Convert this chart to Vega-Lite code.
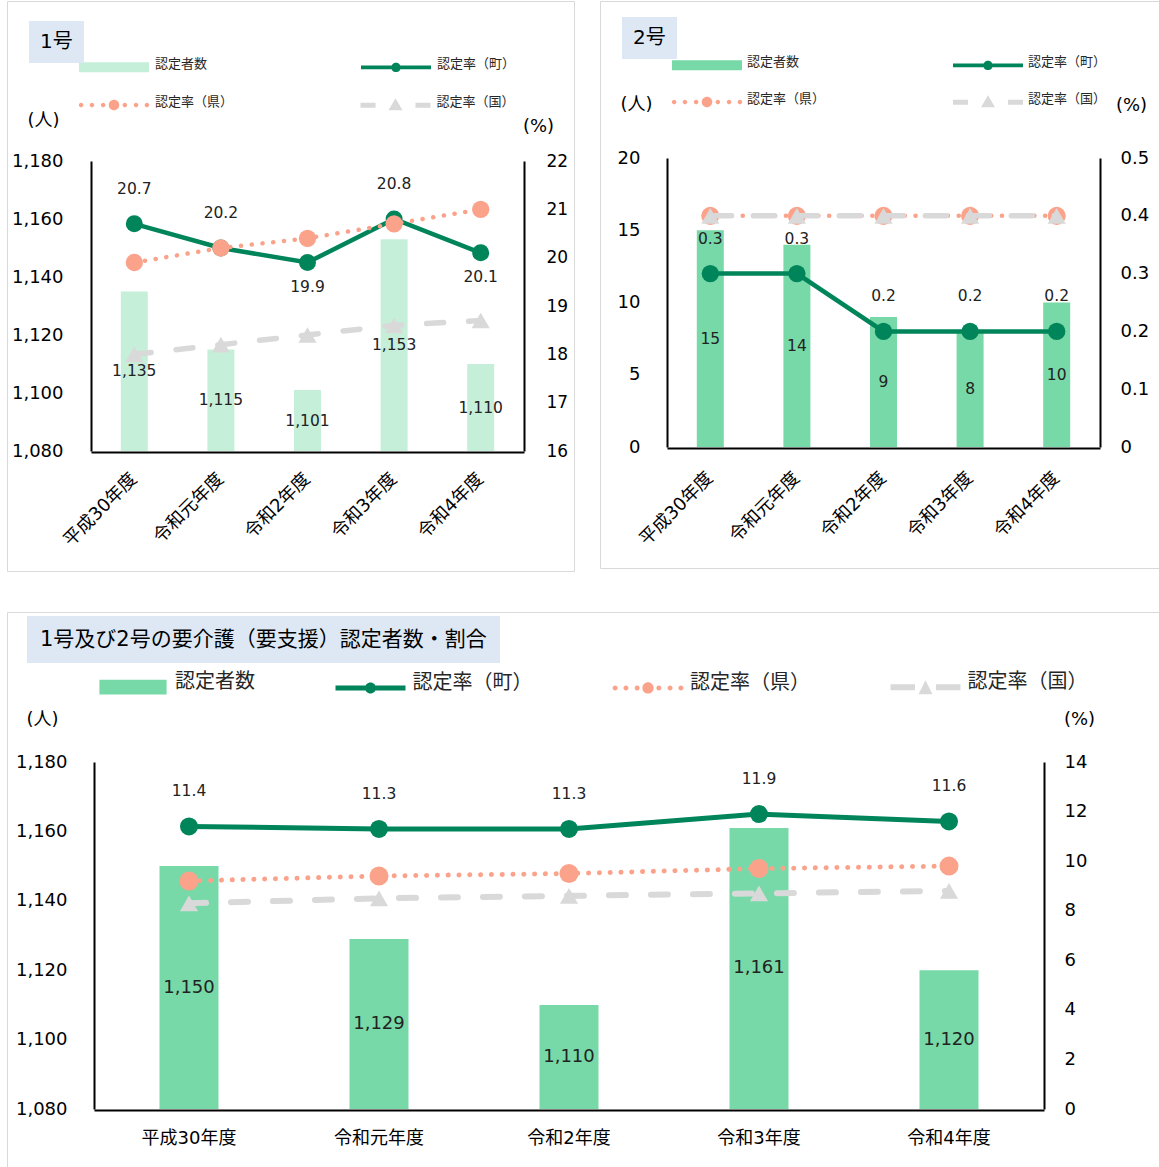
{
  "$schema": "https://vega.github.io/schema/vega-lite/v6.json",
  "padding": {"left": 6, "top": 0, "right": 0, "bottom": 0},
  "background": "white",
  "config": {
    "font": "DejaVu Sans, Noto Sans CJK JP",
    "view": {"stroke": "#D9D9D9", "strokeWidth": 1},
    "axis": {"grid": false, "ticks": false, "domainColor": "#000000", "domainWidth": 2, "labelColor": "#000000", "titleColor": "#000000", "titleFontWeight": "normal"},
    "legend": {"labelColor": "#262626"}
  },
  "datasets": {
    "p1c": [
      {"year": "平成30年度", "series": "認定者数", "count": 1135},
      {"year": "令和元年度", "series": "認定者数", "count": 1115},
      {"year": "令和2年度", "series": "認定者数", "count": 1101},
      {"year": "令和3年度", "series": "認定者数", "count": 1153},
      {"year": "令和4年度", "series": "認定者数", "count": 1110}
    ],
    "p1r": [
      {"year": "平成30年度", "series": "認定率（町）", "rate": 20.7},
      {"year": "令和元年度", "series": "認定率（町）", "rate": 20.2},
      {"year": "令和2年度", "series": "認定率（町）", "rate": 19.9},
      {"year": "令和3年度", "series": "認定率（町）", "rate": 20.8},
      {"year": "令和4年度", "series": "認定率（町）", "rate": 20.1},
      {"year": "平成30年度", "series": "認定率（県）", "rate": 19.9},
      {"year": "令和元年度", "series": "認定率（県）", "rate": 20.2},
      {"year": "令和2年度", "series": "認定率（県）", "rate": 20.4},
      {"year": "令和3年度", "series": "認定率（県）", "rate": 20.7},
      {"year": "令和4年度", "series": "認定率（県）", "rate": 21.0},
      {"year": "平成30年度", "series": "認定率（国）", "rate": 18.0},
      {"year": "令和元年度", "series": "認定率（国）", "rate": 18.2},
      {"year": "令和2年度", "series": "認定率（国）", "rate": 18.4},
      {"year": "令和3年度", "series": "認定率（国）", "rate": 18.6},
      {"year": "令和4年度", "series": "認定率（国）", "rate": 18.7}
    ],
    "p2c": [
      {"year": "平成30年度", "series": "認定者数", "count": 15},
      {"year": "令和元年度", "series": "認定者数", "count": 14},
      {"year": "令和2年度", "series": "認定者数", "count": 9},
      {"year": "令和3年度", "series": "認定者数", "count": 8},
      {"year": "令和4年度", "series": "認定者数", "count": 10}
    ],
    "p2r": [
      {"year": "平成30年度", "series": "認定率（町）", "rate": 0.3},
      {"year": "令和元年度", "series": "認定率（町）", "rate": 0.3},
      {"year": "令和2年度", "series": "認定率（町）", "rate": 0.2},
      {"year": "令和3年度", "series": "認定率（町）", "rate": 0.2},
      {"year": "令和4年度", "series": "認定率（町）", "rate": 0.2},
      {"year": "平成30年度", "series": "認定率（県）", "rate": 0.4},
      {"year": "令和元年度", "series": "認定率（県）", "rate": 0.4},
      {"year": "令和2年度", "series": "認定率（県）", "rate": 0.4},
      {"year": "令和3年度", "series": "認定率（県）", "rate": 0.4},
      {"year": "令和4年度", "series": "認定率（県）", "rate": 0.4},
      {"year": "平成30年度", "series": "認定率（国）", "rate": 0.4},
      {"year": "令和元年度", "series": "認定率（国）", "rate": 0.4},
      {"year": "令和2年度", "series": "認定率（国）", "rate": 0.4},
      {"year": "令和3年度", "series": "認定率（国）", "rate": 0.4},
      {"year": "令和4年度", "series": "認定率（国）", "rate": 0.4}
    ],
    "p3c": [
      {"year": "平成30年度", "series": "認定者数", "count": 1150},
      {"year": "令和元年度", "series": "認定者数", "count": 1129},
      {"year": "令和2年度", "series": "認定者数", "count": 1110},
      {"year": "令和3年度", "series": "認定者数", "count": 1161},
      {"year": "令和4年度", "series": "認定者数", "count": 1120}
    ],
    "p3r": [
      {"year": "平成30年度", "series": "認定率（町）", "rate": 11.4},
      {"year": "令和元年度", "series": "認定率（町）", "rate": 11.3},
      {"year": "令和2年度", "series": "認定率（町）", "rate": 11.3},
      {"year": "令和3年度", "series": "認定率（町）", "rate": 11.9},
      {"year": "令和4年度", "series": "認定率（町）", "rate": 11.6},
      {"year": "平成30年度", "series": "認定率（県）", "rate": 9.2},
      {"year": "令和元年度", "series": "認定率（県）", "rate": 9.4},
      {"year": "令和2年度", "series": "認定率（県）", "rate": 9.5},
      {"year": "令和3年度", "series": "認定率（県）", "rate": 9.7},
      {"year": "令和4年度", "series": "認定率（県）", "rate": 9.8},
      {"year": "平成30年度", "series": "認定率（国）", "rate": 8.3},
      {"year": "令和元年度", "series": "認定率（国）", "rate": 8.5},
      {"year": "令和2年度", "series": "認定率（国）", "rate": 8.6},
      {"year": "令和3年度", "series": "認定率（国）", "rate": 8.7},
      {"year": "令和4年度", "series": "認定率（国）", "rate": 8.8}
    ]
  },
  "spacing": 39,
  "resolve": {"scale": {"color": "independent", "shape": "independent", "stroke": "independent"}, "legend": {"color": "independent", "shape": "independent", "stroke": "independent"}},
  "vconcat": [
    {
      "spacing": 24,
      "resolve": {"scale": {"color": "independent", "shape": "independent", "stroke": "independent"}, "legend": {"color": "independent", "shape": "independent", "stroke": "independent"}},
      "hconcat": [
        {
          "width": 567,
          "height": 570,
          "encoding": {
            "x": {"field": "year", "type": "nominal",
              "scale": {"type": "band", "domain": ["平成30年度", "令和元年度", "令和2年度", "令和3年度", "令和4年度"], "range": [84, 517], "paddingInner": 0, "paddingOuter": 0},
              "axis": {"orient": "bottom", "offset": -119, "title": null, "labelAngle": -45, "labelAlign": "right", "labelBaseline": "middle", "labelFontSize": 18, "labelPadding": 24}}
          },
          "resolve": {"scale": {"y": "independent"}},
          "layer": [
            {
              "data": {"name": "p1c"},
              "transform": [{"calculate": "(datum.count + 1080) / 2", "as": "mid"}],
              "encoding": {
                "y": {"field": "count", "type": "quantitative",
                  "scale": {"domain": [1080, 1180], "range": [450, 160], "zero": false, "nice": false},
                  "axis": {"orient": "left", "offset": -84, "values": [1080, 1100, 1120, 1140, 1160, 1180], "format": ",d", "labelFontSize": 18, "labelPadding": 28, "title": "(人)", "titleAngle": 0, "titleX": -48, "titleY": 119, "titleAlign": "center", "titleBaseline": "middle", "titleFontSize": 18}}
              },
              "layer": [
                {
                  "mark": {"type": "bar", "width": 27},
                  "encoding": {
                    "y2": {"datum": 1080},
                    "color": {"field": "series", "type": "nominal",
                      "scale": {"domain": ["認定者数", "認定率（町）"], "range": ["#C6EFDA", "#00855A"]},
                      "legend": {"orient": "none", "direction": "horizontal", "legendX": 69.5, "legendY": 25.5, "columns": 2, "columnPadding": 151, "title": null, "padding": 0, "symbolSize": 4900, "symbolStrokeWidth": 4.5, "labelFontSize": 13, "labelOffset": 3.5, "labelLimit": 0,
                        "encode": {"symbols": {"update": {
                          "shape": {"signal": "datum.value === '認定者数' ? 'M-1,-0.058H1V0.228H-1Z' : 'M-1,0.028H1V0.142H-1Z M0.135,0.085A0.135,0.135,0,1,1,-0.135,0.085A0.135,0.135,0,1,1,0.135,0.085Z'"},
                          "fill": {"signal": "datum.value === '認定者数' ? '#C6EFDA' : '#00855A'"},
                          "stroke": {"value": "transparent"},
                          "strokeOpacity": {"value": 0},
                          "opacity": {"value": 1}
                        }}}}
                    }
                  }
                },
                {
                  "mark": {"type": "text", "fontSize": 15.5, "color": "#222222"},
                  "encoding": {"y": {"field": "mid", "type": "quantitative"}, "text": {"field": "count", "type": "quantitative", "format": ",d"}}
                }
              ]
            },
            {
              "data": {"name": "p1r"},
              "encoding": {
                "y": {"field": "rate", "type": "quantitative",
                  "scale": {"domain": [16, 22], "range": [450, 160], "zero": false, "nice": false},
                  "axis": {"orient": "right", "offset": -50, "values": [16, 17, 18, 19, 20, 21, 22], "labelFontSize": 17, "labelPadding": 22, "title": "(%)", "titleAngle": 0, "titleX": 14, "titleY": 125, "titleAlign": "center", "titleBaseline": "middle", "titleFontSize": 18}}
              },
              "layer": [
                {"transform": [{"filter": "datum.series === '認定率（町）'"}], "mark": {"type": "line", "color": "#00855A", "strokeWidth": 4.5}},
                {"transform": [{"filter": "datum.series === '認定率（町）'"}], "mark": {"type": "point", "filled": true, "opacity": 1, "color": "#00855A", "size": 289},
                  "encoding": {"shape": {"datum": "1号", "type": "nominal", "scale": {"range": ["circle"]},
                    "legend": {"orient": "none", "legendX": 22, "legendY": 20, "title": null, "fillColor": "#DDE8F4", "padding": 11, "symbolSize": 0, "symbolOpacity": 0, "symbolStrokeWidth": 0, "labelOffset": -20, "labelFontSize": 20, "labelColor": "#000000", "labelLimit": 0}}}},
                {"transform": [{"filter": "datum.series === '認定率（県）'"}], "mark": {"type": "line", "strokeWidth": 4.5, "strokeDash": [0.1, 10.7], "strokeCap": "round"},
                  "encoding": {"stroke": {"field": "series", "type": "nominal",
                    "scale": {"domain": ["認定率（県）", "認定率（国）"], "range": ["#FBA28B", "#D9D9D9"]},
                    "legend": {"orient": "none", "direction": "horizontal", "legendX": 69.5, "legendY": 63.5, "columns": 2, "columnPadding": 124.5, "title": null, "padding": 0, "symbolSize": 4900, "symbolStrokeWidth": 4.5, "labelFontSize": 13, "labelOffset": 3.5, "labelLimit": 0,
                      "encode": {"symbols": {"update": {
                        "shape": {"signal": "datum.value === '認定率（国）' ? 'M-1,0.015H-0.57V0.155H-1Z M0.57,0.015H1V0.155H0.57Z M0,-0.115L0.2,0.225L-0.2,0.225Z' : 'M-0.875,0.085A0.065,0.065,0,1,1,-1.005,0.085A0.065,0.065,0,1,1,-0.875,0.085Z M-0.565,0.085A0.065,0.065,0,1,1,-0.695,0.085A0.065,0.065,0,1,1,-0.565,0.085Z M-0.245,0.085A0.065,0.065,0,1,1,-0.375,0.085A0.065,0.065,0,1,1,-0.245,0.085Z M0.15,0.085A0.15,0.15,0,1,1,-0.15,0.085A0.15,0.15,0,1,1,0.15,0.085Z M0.375,0.085A0.065,0.065,0,1,1,0.245,0.085A0.065,0.065,0,1,1,0.375,0.085Z M0.695,0.085A0.065,0.065,0,1,1,0.565,0.085A0.065,0.065,0,1,1,0.695,0.085Z M1.005,0.085A0.065,0.065,0,1,1,0.875,0.085A0.065,0.065,0,1,1,1.005,0.085Z'"},
                        "fill": {"signal": "datum.value === '認定率（県）' ? '#FBA28B' : '#D9D9D9'"},
                        "stroke": {"value": "transparent"},
                        "strokeOpacity": {"value": 0},
                        "opacity": {"value": 1}
                      }}}}}}},
                {"transform": [{"filter": "datum.series === '認定率（県）'"}], "mark": {"type": "point", "filled": true, "opacity": 1, "color": "#FBA28B", "size": 300, "shape": "circle"}},
                {"transform": [{"filter": "datum.series === '認定率（国）'"}], "mark": {"type": "line", "strokeWidth": 5.5, "strokeDash": [17, 25], "strokeCap": "round"},
                  "encoding": {"stroke": {"field": "series", "type": "nominal"}}},
                {"transform": [{"filter": "datum.series === '認定率（国）'"}], "mark": {"type": "point", "filled": true, "opacity": 1, "color": "#D9D9D9", "size": 330, "shape": "triangle-up"}},
                {"transform": [{"filter": "datum.series === '認定率（町）' && datum.year !== '令和2年度' && datum.year !== '令和4年度'"}], "mark": {"type": "text", "fontSize": 15.5, "dy": -35, "color": "#222222"},
                  "encoding": {"text": {"field": "rate", "type": "quantitative", "format": ".1f"}}},
                {"transform": [{"filter": "datum.series === '認定率（町）' && (datum.year === '令和2年度' || datum.year === '令和4年度')"}], "mark": {"type": "text", "fontSize": 15.5, "dy": 24, "color": "#222222"},
                  "encoding": {"text": {"field": "rate", "type": "quantitative", "format": ".1f"}}}
              ]
            }
          ]
        },
        {
          "width": 570,
          "height": 567,
          "encoding": {
            "x": {"field": "year", "type": "nominal",
              "scale": {"type": "band", "domain": ["平成30年度", "令和元年度", "令和2年度", "令和3年度", "令和4年度"], "range": [67, 500], "paddingInner": 0, "paddingOuter": 0},
              "axis": {"orient": "bottom", "offset": -120, "title": null, "labelAngle": -45, "labelAlign": "right", "labelBaseline": "middle", "labelFontSize": 18, "labelPadding": 27}}
          },
          "resolve": {"scale": {"y": "independent"}},
          "layer": [
            {
              "data": {"name": "p2c"},
              "transform": [{"calculate": "datum.count / 2", "as": "mid"}],
              "encoding": {
                "y": {"field": "count", "type": "quantitative",
                  "scale": {"domain": [0, 20], "range": [446, 157], "zero": false, "nice": false},
                  "axis": {"orient": "left", "offset": -67, "values": [0, 5, 10, 15, 20], "labelFontSize": 18, "labelPadding": 27, "title": "(人)", "titleAngle": 0, "titleX": -31, "titleY": 103, "titleAlign": "center", "titleBaseline": "middle", "titleFontSize": 18}}
              },
              "layer": [
                {
                  "mark": {"type": "bar", "width": 27},
                  "encoding": {
                    "y2": {"datum": 0},
                    "color": {"field": "series", "type": "nominal",
                      "scale": {"domain": ["認定者数", "認定率（町）"], "range": ["#77D9A8", "#00855A"]},
                      "legend": {"orient": "none", "direction": "horizontal", "legendX": 69.5, "legendY": 23.5, "columns": 2, "columnPadding": 151, "title": null, "padding": 0, "symbolSize": 4900, "symbolStrokeWidth": 4.5, "labelFontSize": 13, "labelOffset": 2.5, "labelLimit": 0,
                        "encode": {"symbols": {"update": {
                          "shape": {"signal": "datum.value === '認定者数' ? 'M-1,-0.058H1V0.228H-1Z' : 'M-1,0.028H1V0.142H-1Z M0.135,0.085A0.135,0.135,0,1,1,-0.135,0.085A0.135,0.135,0,1,1,0.135,0.085Z'"},
                          "fill": {"signal": "datum.value === '認定者数' ? '#77D9A8' : '#00855A'"},
                          "stroke": {"value": "transparent"},
                          "strokeOpacity": {"value": 0},
                          "opacity": {"value": 1}
                        }}}}
                    }
                  }
                },
                {
                  "mark": {"type": "text", "fontSize": 15.5, "color": "#222222"},
                  "encoding": {"y": {"field": "mid", "type": "quantitative"}, "text": {"field": "count", "type": "quantitative", "format": "d"}}
                }
              ]
            },
            {
              "data": {"name": "p2r"},
              "encoding": {
                "y": {"field": "rate", "type": "quantitative",
                  "scale": {"domain": [0, 0.5], "range": [446, 157], "zero": false, "nice": false},
                  "axis": {"orient": "right", "offset": -70, "values": [0, 0.1, 0.2, 0.3, 0.4, 0.5], "format": "~g", "labelFontSize": 18, "labelPadding": 20, "title": "(%)", "titleAngle": 0, "titleX": 31, "titleY": 104, "titleAlign": "center", "titleBaseline": "middle", "titleFontSize": 18}}
              },
              "layer": [
                {"transform": [{"filter": "datum.series === '認定率（町）'"}], "mark": {"type": "line", "color": "#00855A", "strokeWidth": 4.5}},
                {"transform": [{"filter": "datum.series === '認定率（町）'"}], "mark": {"type": "point", "filled": true, "opacity": 1, "color": "#00855A", "size": 300},
                  "encoding": {"shape": {"datum": "2号", "type": "nominal", "scale": {"range": ["circle"]},
                    "legend": {"orient": "none", "legendX": 22, "legendY": 16, "title": null, "fillColor": "#DDE8F4", "padding": 11, "symbolSize": 0, "symbolOpacity": 0, "symbolStrokeWidth": 0, "labelOffset": -20, "labelFontSize": 20, "labelColor": "#000000", "labelLimit": 0}}}},
                {"transform": [{"filter": "datum.series === '認定率（県）'"}], "mark": {"type": "line", "strokeWidth": 4.5, "strokeDash": [0.1, 10.7], "strokeCap": "round"},
                  "encoding": {"stroke": {"field": "series", "type": "nominal",
                    "scale": {"domain": ["認定率（県）", "認定率（国）"], "range": ["#FBA28B", "#D9D9D9"]},
                    "legend": {"orient": "none", "direction": "horizontal", "legendX": 69.5, "legendY": 60.5, "columns": 2, "columnPadding": 125, "title": null, "padding": 0, "symbolSize": 4900, "symbolStrokeWidth": 4.5, "labelFontSize": 13, "labelOffset": 2.5, "labelLimit": 0,
                      "encode": {"symbols": {"update": {
                        "shape": {"signal": "datum.value === '認定率（国）' ? 'M-1,0.015H-0.57V0.155H-1Z M0.57,0.015H1V0.155H0.57Z M0,-0.115L0.2,0.225L-0.2,0.225Z' : 'M-0.875,0.085A0.065,0.065,0,1,1,-1.005,0.085A0.065,0.065,0,1,1,-0.875,0.085Z M-0.565,0.085A0.065,0.065,0,1,1,-0.695,0.085A0.065,0.065,0,1,1,-0.565,0.085Z M-0.245,0.085A0.065,0.065,0,1,1,-0.375,0.085A0.065,0.065,0,1,1,-0.245,0.085Z M0.15,0.085A0.15,0.15,0,1,1,-0.15,0.085A0.15,0.15,0,1,1,0.15,0.085Z M0.375,0.085A0.065,0.065,0,1,1,0.245,0.085A0.065,0.065,0,1,1,0.375,0.085Z M0.695,0.085A0.065,0.065,0,1,1,0.565,0.085A0.065,0.065,0,1,1,0.695,0.085Z M1.005,0.085A0.065,0.065,0,1,1,0.875,0.085A0.065,0.065,0,1,1,1.005,0.085Z'"},
                        "fill": {"signal": "datum.value === '認定率（県）' ? '#FBA28B' : '#D9D9D9'"},
                        "stroke": {"value": "transparent"},
                        "strokeOpacity": {"value": 0},
                        "opacity": {"value": 1}
                      }}}}}}},
                {"transform": [{"filter": "datum.series === '認定率（県）'"}], "mark": {"type": "point", "filled": true, "opacity": 1, "color": "#FBA28B", "size": 330, "shape": "circle"}},
                {"transform": [{"filter": "datum.series === '認定率（国）'"}], "mark": {"type": "line", "strokeWidth": 5.5, "strokeDash": [21, 22], "strokeCap": "round"},
                  "encoding": {"stroke": {"field": "series", "type": "nominal"}}},
                {"transform": [{"filter": "datum.series === '認定率（国）'"}], "mark": {"type": "point", "filled": true, "opacity": 1, "color": "#D9D9D9", "size": 330, "shape": "triangle-up"}},
                {"transform": [{"filter": "datum.series === '認定率（町）'"}], "mark": {"type": "text", "fontSize": 15.5, "dy": -35, "color": "#222222"},
                  "encoding": {"text": {"field": "rate", "type": "quantitative", "format": ".1f"}}}
              ]
            }
          ]
        }
      ]
    },
    {
      "width": 1160,
      "height": 560,
      "encoding": {
        "x": {"field": "year", "type": "nominal",
          "scale": {"type": "band", "domain": ["平成30年度", "令和元年度", "令和2年度", "令和3年度", "令和4年度"], "range": [87, 1037], "paddingInner": 0, "paddingOuter": 0},
          "axis": {"orient": "bottom", "offset": -62, "title": null, "labelAngle": 0, "labelAlign": "center", "labelBaseline": "middle", "labelFontSize": 18, "labelPadding": 28}}
      },
      "resolve": {"scale": {"y": "independent"}},
      "layer": [
        {
          "data": {"name": "p3c"},
          "transform": [{"calculate": "(datum.count + 1080) / 2", "as": "mid"}],
          "encoding": {
            "y": {"field": "count", "type": "quantitative",
              "scale": {"domain": [1080, 1180], "range": [497, 150], "zero": false, "nice": false},
              "axis": {"orient": "left", "offset": -87, "values": [1080, 1100, 1120, 1140, 1160, 1180], "format": ",d", "labelFontSize": 18, "labelPadding": 27, "title": "(人)", "titleAngle": 0, "titleX": -52, "titleY": 107, "titleAlign": "center", "titleBaseline": "middle", "titleFontSize": 18}}
          },
          "layer": [
            {
              "mark": {"type": "bar", "width": 59},
              "encoding": {
                "y2": {"datum": 1080},
                "color": {"field": "series", "type": "nominal",
                  "scale": {"domain": ["認定者数", "認定率（町）", "認定率（県）", "認定率（国）"], "range": ["#77D9A8", "#00855A", "#FBA28B", "#D9D9D9"]},
                  "legend": {"orient": "none", "direction": "horizontal", "legendX": 88.5, "legendY": 32.5, "columns": 4, "columnPadding": 77.5, "title": null, "padding": 0, "symbolSize": 4900, "symbolStrokeWidth": 5, "labelFontSize": 20, "labelOffset": 4.5, "labelLimit": 0,
                    "encode": {"symbols": {"update": {
                      "shape": {"signal": "datum.value === '認定者数' ? 'M-0.96,-0.07H0.96V0.35H-0.96Z' : datum.value === '認定率（国）' ? 'M-1,0.054H-0.3V0.226H-1Z M0.3,0.054H1V0.226H0.3Z M0,-0.06L0.2,0.34L-0.2,0.34Z' : datum.value === '認定率（県）' ? 'M-0.869,0.14A0.071,0.071,0,1,1,-1.011,0.14A0.071,0.071,0,1,1,-0.869,0.14Z M-0.559,0.14A0.071,0.071,0,1,1,-0.701,0.14A0.071,0.071,0,1,1,-0.559,0.14Z M-0.239,0.14A0.071,0.071,0,1,1,-0.381,0.14A0.071,0.071,0,1,1,-0.239,0.14Z M0.16,0.14A0.16,0.16,0,1,1,-0.16,0.14A0.16,0.16,0,1,1,0.16,0.14Z M0.381,0.14A0.071,0.071,0,1,1,0.239,0.14A0.071,0.071,0,1,1,0.381,0.14Z M0.701,0.14A0.071,0.071,0,1,1,0.559,0.14A0.071,0.071,0,1,1,0.701,0.14Z M1.011,0.14A0.071,0.071,0,1,1,0.869,0.14A0.071,0.071,0,1,1,1.011,0.14Z' : 'M-1,0.069H1V0.211H-1Z M0.157,0.14A0.157,0.157,0,1,1,-0.157,0.14A0.157,0.157,0,1,1,0.157,0.14Z'"},
                      "fill": {"signal": "datum.value === '認定者数' ? '#77D9A8' : datum.value === '認定率（町）' ? '#00855A' : datum.value === '認定率（県）' ? '#FBA28B' : '#D9D9D9'"},
                      "stroke": {"value": "transparent"},
                      "strokeOpacity": {"value": 0},
                      "opacity": {"value": 1}
                    }}}}
                }
              }
            },
            {
              "mark": {"type": "text", "fontSize": 18, "color": "#222222"},
              "encoding": {"y": {"field": "mid", "type": "quantitative"}, "text": {"field": "count", "type": "quantitative", "format": ",d"}}
            }
          ]
        },
        {
          "data": {"name": "p3r"},
          "encoding": {
            "y": {"field": "rate", "type": "quantitative",
              "scale": {"domain": [0, 14], "range": [497, 150], "zero": false, "nice": false},
              "axis": {"orient": "right", "offset": -123, "values": [0, 2, 4, 6, 8, 10, 12, 14], "labelFontSize": 18, "labelPadding": 20, "title": "(%)", "titleAngle": 0, "titleX": 35, "titleY": 107, "titleAlign": "center", "titleBaseline": "middle", "titleFontSize": 18}}
          },
          "layer": [
            {"transform": [{"filter": "datum.series === '認定率（町）'"}], "mark": {"type": "line", "color": "#00855A", "strokeWidth": 5}},
            {"transform": [{"filter": "datum.series === '認定率（町）'"}], "mark": {"type": "point", "filled": true, "opacity": 1, "color": "#00855A", "size": 324},
              "encoding": {"shape": {"datum": "1号及び2号の要介護（要支援）認定者数・割合", "type": "nominal", "scale": {"range": ["circle"]},
                "legend": {"orient": "none", "legendX": 20, "legendY": 4, "title": null, "fillColor": "#DDE8F4", "padding": 13, "symbolSize": 0, "symbolOpacity": 0, "symbolStrokeWidth": 0, "labelOffset": -21, "labelFontSize": 21, "labelColor": "#000000", "labelLimit": 0}}}},
            {"transform": [{"filter": "datum.series === '認定率（県）'"}], "mark": {"type": "line", "color": "#FBA28B", "strokeWidth": 5, "strokeDash": [0.1, 10.7], "strokeCap": "round"}},
            {"transform": [{"filter": "datum.series === '認定率（県）'"}], "mark": {"type": "point", "filled": true, "opacity": 1, "color": "#FBA28B", "size": 361, "shape": "circle"}},
            {"transform": [{"filter": "datum.series === '認定率（国）'"}], "mark": {"type": "line", "color": "#D9D9D9", "strokeWidth": 6, "strokeDash": [17, 25], "strokeCap": "round"}},
            {"transform": [{"filter": "datum.series === '認定率（国）'"}], "mark": {"type": "point", "filled": true, "opacity": 1, "color": "#D9D9D9", "size": 330, "shape": "triangle-up"}},
            {"transform": [{"filter": "datum.series === '認定率（町）'"}], "mark": {"type": "text", "fontSize": 15.5, "dy": -35, "color": "#222222"},
              "encoding": {"text": {"field": "rate", "type": "quantitative", "format": ".1f"}}}
          ]
        }
      ]
    }
  ]
}
